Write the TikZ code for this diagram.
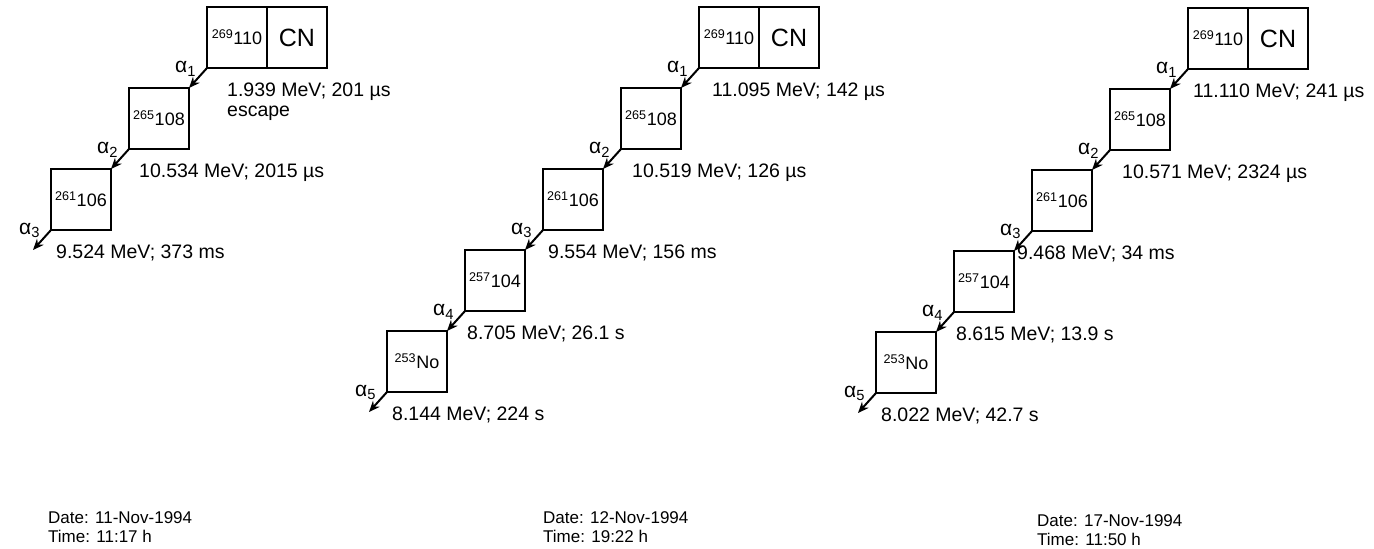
\documentclass[tikz,border=0pt]{standalone}
\usepackage{fontspec}
\setmainfont{Liberation Sans}
\usetikzlibrary{arrows.meta, positioning}

\begin{document}
\begin{tikzpicture}[
        x=1pt, y=1pt,
        node distance=20pt and 18pt,
        nuc/.style={draw, line width=2pt, outer sep=0pt, inner sep=0pt, minimum width=60pt, minimum height=61pt, font=\fontsize{18}{20}\selectfont},
        cn/.style={nuc, font=\fontsize{25}{28}\selectfont},
        arrow/.style={-{Stealth[length=11pt, width=9pt]}, line width=2pt},
        alab/.style={above left, inner sep=1pt, font=\fontsize{21}{21}\selectfont},
        elab/.style={anchor=base west, align=left, inner sep=0pt, yshift=-28pt, font=\fontsize{19.5}{20}\selectfont},
        dlab/.style={anchor=base west, align=left, inner sep=0pt, font=\fontsize{17}{19}\selectfont}
    ]
    \useasboundingbox (0,0) rectangle (1374,-549);
    % 11-Nov-1994
    \node[nuc] (dsa) at (237,-37.5) {\textsuperscript{269}110};
    \node[cn, right=0pt of dsa] (cna) {CN};
    \node[nuc, below left=of dsa.south west] (hsa) {\textsuperscript{265}108};
    \node[nuc, below left=of hsa.south west] (sga) {\textsuperscript{261}106};
    \coordinate[below left=of sga.south west] (enda);
    \draw[arrow] (dsa.south west) -- node[alab]{α\textsubscript{1}} (hsa.north east);
    \draw[arrow] (hsa.south west) -- node[alab]{α\textsubscript{2}} (sga.north east);
    \draw[arrow] (sga.south west) -- node[alab]{α\textsubscript{3}} (enda);
    \node[elab, xshift=20pt, yshift=-20pt] at (dsa.south west) {1.939 MeV; 201 µs\\escape};
    \node[elab, xshift=10pt] at (hsa.south west) {10.534 MeV; 2015 µs};
    \node[elab, xshift=5pt] at (sga.south west) {9.524 MeV; 373 ms};
    \node[dlab] (datea) at (48,-542) {Date: 11-Nov-1994\\Time: 11:17 h};
    % 12-Nov-1994
    \node[nuc] (dsb) at (729,-37.5) {\textsuperscript{269}110};
    \node[cn, right=0pt of dsb] (cnb) {CN};
    \node[nuc, below left=of dsb.south west] (hsb) {\textsuperscript{265}108};
    \node[nuc, below left=of hsb.south west] (sgb) {\textsuperscript{261}106};
    \node[nuc, below left=of sgb.south west] (rfb) {\textsuperscript{257}104};
    \node[nuc, below left=of rfb.south west] (nob) {\textsuperscript{253}No};
    \coordinate[below left=of nob.south west] (endb);
    \draw[arrow] (dsb.south west) -- node[alab]{α\textsubscript{1}} (hsb.north east);
    \draw[arrow] (hsb.south west) -- node[alab]{α\textsubscript{2}} (sgb.north east);
    \draw[arrow] (sgb.south west) -- node[alab]{α\textsubscript{3}} (rfb.north east);
    \draw[arrow] (rfb.south west) -- node[alab]{α\textsubscript{4}} (nob.north east);
    \draw[arrow] (nob.south west) -- node[alab]{α\textsubscript{5}} (endb);
    \node[elab, xshift=13pt] at (dsb.south west) {11.095 MeV; 142 µs};
    \node[elab, xshift=11pt] at (hsb.south west) {10.519 MeV; 126 µs};
    \node[elab, xshift=5pt] at (sgb.south west) {9.554 MeV; 156 ms};
    \node[elab, xshift=2pt] at (rfb.south west) {8.705 MeV; 26.1 s};
    \node[elab, xshift=5pt] at (nob.south west) {8.144 MeV; 224 s};
    \node[dlab] (dateb) at (543,-542) {Date: 12-Nov-1994\\Time: 19:22 h};
    % 17-Nov-1994
    \node[nuc] (dsc) at (1218,-38.5) {\textsuperscript{269}110};
    \node[cn, right=0pt of dsc] (cnc) {CN};
    \node[nuc, below left=of dsc.south west] (hsc) {\textsuperscript{265}108};
    \node[nuc, below left=of hsc.south west] (sgc) {\textsuperscript{261}106};
    \node[nuc, below left=of sgc.south west] (rfc) {\textsuperscript{257}104};
    \node[nuc, below left=of rfc.south west] (noc) {\textsuperscript{253}No};
    \coordinate[below left=of noc.south west] (endc);
    \draw[arrow] (dsc.south west) -- node[alab]{α\textsubscript{1}} (hsc.north east);
    \draw[arrow] (hsc.south west) -- node[alab]{α\textsubscript{2}} (sgc.north east);
    \draw[arrow] (sgc.south west) -- node[alab]{α\textsubscript{3}} (rfc.north east);
    \draw[arrow] (rfc.south west) -- node[alab]{α\textsubscript{4}} (noc.north east);
    \draw[arrow] (noc.south west) -- node[alab]{α\textsubscript{5}} (endc);
    \node[elab, xshift=5pt] at (dsc.south west) {11.110 MeV; 241 µs};
    \node[elab, xshift=12pt] at (hsc.south west) {10.571 MeV; 2324 µs};
    \node[elab, xshift=-15pt] at (sgc.south west) {9.468 MeV; 34 ms};
    \node[elab, xshift=2pt] at (rfc.south west) {8.615 MeV; 13.9 s};
    \node[elab, xshift=5pt] at (noc.south west) {8.022 MeV; 42.7 s};
    \node[dlab] (datec) at (1037,-545) {Date: 17-Nov-1994\\Time: 11:50 h};
\end{tikzpicture}
\end{document}
